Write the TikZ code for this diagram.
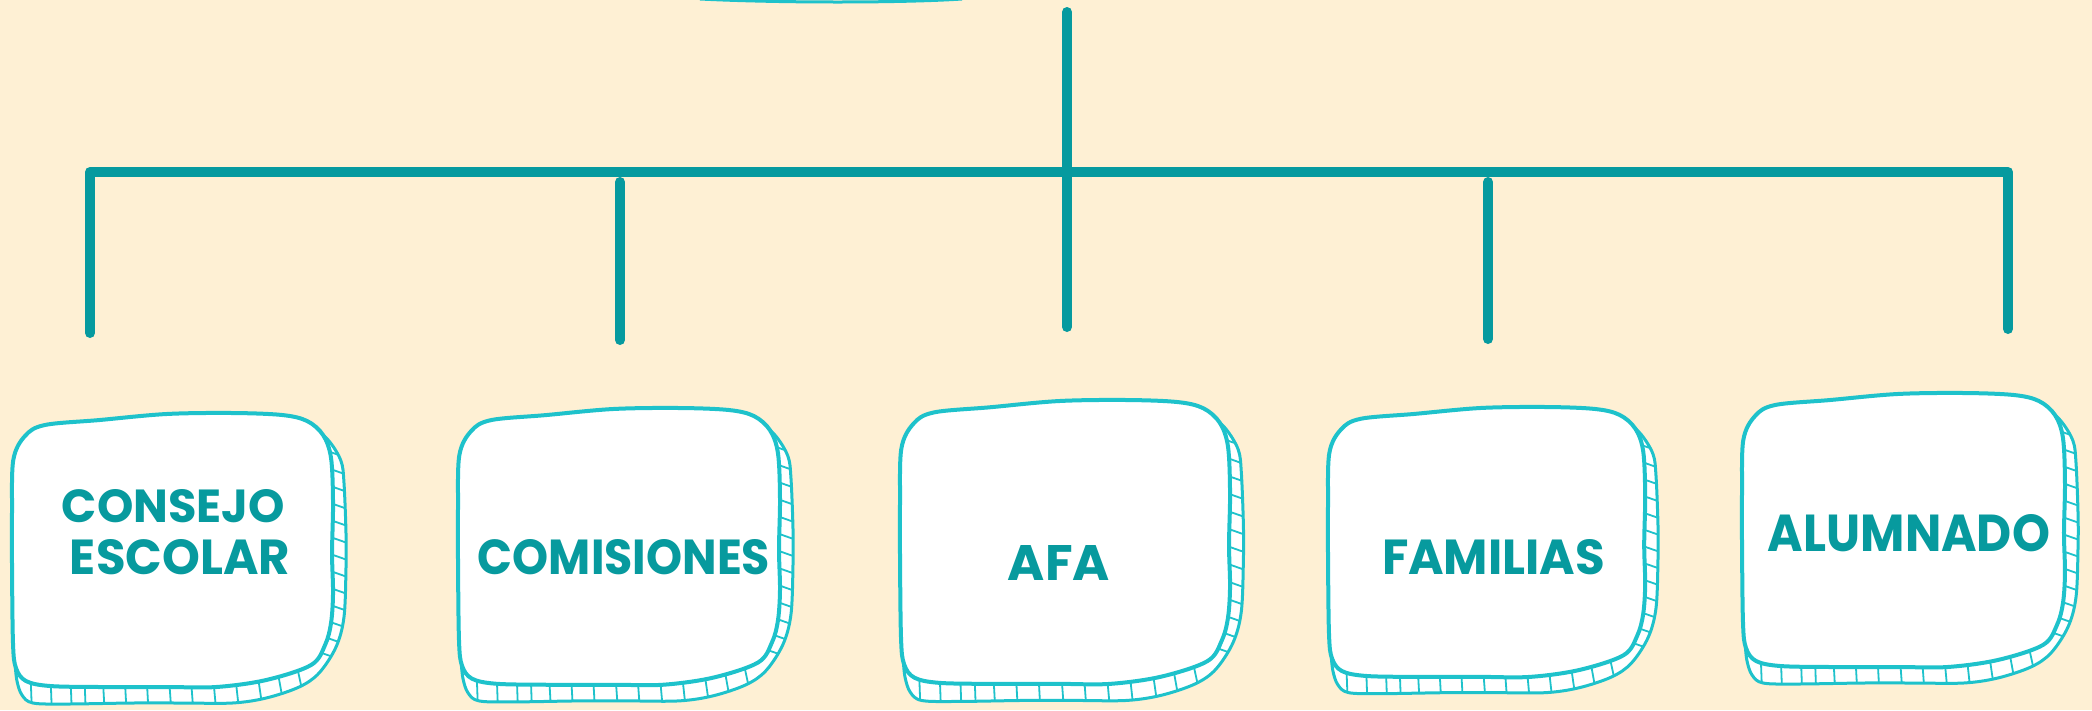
\documentclass[tikz,border=0pt]{standalone}
\usepackage{graphicx}
\usepackage{fontspec}
\newfontfamily\lblfont{Poppins}
\definecolor{bgc}{HTML}{FEF0D4}
\definecolor{linec}{HTML}{069A9F}
\definecolor{boxc}{HTML}{1EC2CB}
\definecolor{txtc}{HTML}{079A9E}
\tikzset{
  conn/.style={draw=linec, line width=10pt, line cap=round, line join=round},
  frontst/.style={fill=white, draw=boxc, line width=4pt, line join=round},
  shadowst/.style={draw=boxc, line width=3pt, line join=round},
  hatchst/.style={draw=boxc, line width=1.8pt},
  lbl/.style={inner sep=0pt, outer sep=0pt, text=txtc, font=\lblfont\bfseries}
}
\newcommand\lbltxt[3]{\resizebox{#1pt}{#2pt}{#3}}
\newcommand\frontpath{plot[smooth cycle, tension=0.55] coordinates {(1.3,47) (13,23) (33,12) (88,7) (155,1) (221,0) (271,2) (296,8) (312,22) (320,45) (322,90) (321,140) (322,180) (320,210) (314,232) (300,252) (255,267) (205,274) (155,274) (88,274) (38,273) (14,268) (4,255) (1,230) (0,150) (0,100)}}
\newcommand\shadowpath{plot[smooth, tension=0.55] coordinates {(300,11) (318,28) (330,48) (333,70) (335,120) (335,155) (333,204) (325,234) (308,260) (288,274) (255,285) (221,290) (171,290) (121,290) (55,291) (21,290) (10,282) (5,268) (3,250)} -- (150,150) -- cycle}
\newcommand\sketchbox[5]{%
  \begin{scope}[shift={(#2,#3)}, xscale=#4, yscale=#5]
    \fill[white] \shadowpath;
    \begin{scope}
      \clip \shadowpath;
      \foreach \yy in {34,51,...,240} \draw[hatchst] (305,\yy) -- (345,\yy+14);
      \foreach \xx/\dx in {18/2,38/2,58/2,72/2,90/3,112/3,134/3,156/4,178/4,200/5,222/6,244/8,264/10,284/12}
        \draw[hatchst] (\xx,245) -- (\xx+\dx,300);
    \end{scope}
    \draw[shadowst] \shadowpath;
    \path[frontst] \frontpath;
    \coordinate (#1) at (161,137);
  \end{scope}}
\begin{document}
\begin{tikzpicture}[x=1pt,y=-1pt]
\useasboundingbox (0,0) rectangle (2092,710);
\fill[bgc] (0,0) rectangle (2092,710);
% fragment of a box above, cut by the top edge
\draw[boxc, line width=3pt] (700,-1) .. controls (780,3) and (900,3) .. (962,-1);
% connector coordinates
\coordinate (ctop) at (1067,12);
\coordinate (cbot) at (1067,327);
\coordinate (hL) at (90,172);
\coordinate (hR) at (2008,172);
\coordinate (d1b) at (90,333);
\coordinate (d2t) at (620,182);
\coordinate (d2b) at (620,340);
\coordinate (d4t) at (1488,182);
\coordinate (d4b) at (1488,339);
\coordinate (d5b) at (2008,329);
\draw[conn] (d1b) -- (hL) -- (hR) -- (d5b);
\draw[conn] (ctop) -- (cbot);
\draw[conn] (d2t) -- (d2b);
\draw[conn] (d4t) -- (d4b);
% boxes
\sketchbox{b1}{12}{413}{0.997}{1.0}
\sketchbox{b2}{458}{408}{1.0}{1.01}
\sketchbox{b3}{900}{400}{1.025}{1.036}
\sketchbox{b4}{1328}{407}{0.985}{0.985}
\sketchbox{b5}{1742}{393}{1.003}{1.0}
% labels
\node[lbl] (n1a) at (173.5,506.5) {\lbltxt{223}{33}{CONSEJO}};
\node[lbl] (n1b) at (180,557.5) {\lbltxt{220}{35}{ESCOLAR}};
\node[lbl] (n2) at (624,557.5) {\lbltxt{292}{35}{COMISIONES}};
\node[lbl] (n3) at (1059,562.5) {\lbltxt{102}{35}{AFA}};
\node[lbl] (n4) at (1493.5,557.5) {\lbltxt{223}{35}{FAMILIAS}};
\node[lbl] (n5) at (1909,533.5) {\lbltxt{282}{37}{ALUMNADO}};
\end{tikzpicture}
\end{document}
